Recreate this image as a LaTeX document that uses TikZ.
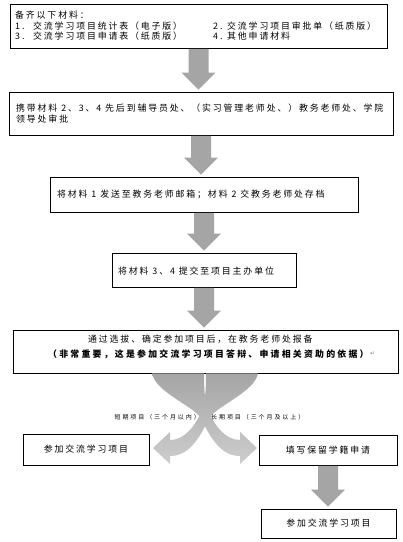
\documentclass[tikz,border=0pt]{standalone}
\usepackage{fontspec}
\setmainfont{Noto Sans CJK SC}[LetterSpace=21]
\newfontfamily\lblfont{Noto Sans CJK SC}[LetterSpace=32]
\newfontfamily\symfont{DejaVu Sans}
\usetikzlibrary{calc}
\definecolor{arrowgray}{RGB}{165,165,165}
\definecolor{lightarrow}{RGB}{205,205,205}
\tikzset{
 box/.style={draw=black, line width=0.8pt, inner sep=0pt},
 txt/.style={anchor=west, inner sep=0pt, font=\fontsize{8.9pt}{10.5pt}\selectfont},
 lbl/.style={inner sep=0pt, font=\lblfont\fontsize{6pt}{7pt}\selectfont},
 bandfill/.style={top color=arrowgray, bottom color=lightarrow, draw=none},
}
\newcommand\blockarr[2]{\fill[arrowgray] let \p1=(#1.south), \p2=(#2.north) in
 (\x1-10pt,\y1-0.4pt) -- (\x1+10pt,\y1-0.4pt) -- (\x1+10pt,\y2+19pt) -- (\x1+17pt,\y2+19pt) -- (\x1,\y2+2pt) -- (\x1-17pt,\y2+19pt) -- (\x1-10pt,\y2+19pt) -- cycle;}
\begin{document}
\begin{tikzpicture}[x=1pt,y=-1pt]
\fill[white] (0,0) rectangle (403,542);
\useasboundingbox (0,0) rectangle (403,542);

% boxes
\node[box, minimum width=377pt, minimum height=44pt] (b1) at (198.5,26) {};
\node[box, minimum width=384pt, minimum height=43pt] (b2) at (201,113.5) {};
\node[box, minimum width=308pt, minimum height=35pt] (b3) at (204,194.5) {};
\node[box, minimum width=184pt, minimum height=34pt] (b4) at (204,270) {};
\node[box, minimum width=385pt, minimum height=43pt] (b5) at (205.5,351.5) {};
\node[box, minimum width=126pt, minimum height=31pt, font=\fontsize{8.9pt}{10.5pt}\selectfont] (b6) at (86,449.5) {参加交流学习项目};
\node[box, minimum width=138pt, minimum height=30pt, font=\fontsize{8.9pt}{10.5pt}\selectfont] (b7) at (328,450) {填写保留学籍申请};
\node[box, minimum width=135pt, minimum height=29pt, font=\fontsize{8.9pt}{10.5pt}\selectfont] (b8) at (328.5,523.5) {参加交流学习项目};

% texts
\node[txt] (t1a) at (15,15) {备齐以下材料：};
\node[txt] (t1b) at (15,26) {\makebox[18pt][l]{1.}交流学习项目统计表（电子版）};
\node[txt] (t1c) at (213,26) {\makebox[14pt][l]{2.}交流学习项目审批单（纸质版）};
\node[txt] (t1d) at (15,36) {\makebox[18pt][l]{3.}交流学习项目申请表（纸质版）};
\node[txt] (t1e) at (213,36) {\makebox[14pt][l]{4.}其他申请材料};
\node[txt] (t2a) at (16,108) {携带材料 2、3、4 先后到辅导员处、（实习管理老师处、）教务老师处、学院};
\node[txt] (t2b) at (16,119) {领导处审批};
\node[txt] (t3) at (57,194) {将材料 1 发送至教务老师邮箱；材料 2 交教务老师处存档};
\node[txt] (t4) at (118,271) {将材料 3、4 提交至项目主办单位};
\node[txt] (t5a) at (88,339) {通过选拔、确定参加项目后，在教务老师处报备};
\node[txt, font=\fontsize{8.9pt}{10.5pt}\selectfont\bfseries\addfontfeatures{LetterSpace=25}] (t5b) at (48,354) {（非常重要，这是参加交流学习项目答辩、申请相关资助的依据）};
\node[txt, text=gray, font=\symfont\fontsize{6pt}{7pt}\selectfont] (t5c) at (t5b.east) {\,↵};

% straight block arrows
\blockarr{b1}{b2}
\blockarr{b2}{b3}
\blockarr{b3}{b4}
\blockarr{b4}{b5}
\blockarr{b7}{b8}

% curved crossing arrows
\shade[bandfill] (152,373.4) -- (204,373.4)
 .. controls (204,392) and (205,402) .. (208,410)
 .. controls (215,427) and (226,440) .. (240,440)
 -- (240,432) -- (257,448) -- (240,464) -- (240,456)
 .. controls (222,456) and (211,440) .. (201,418)
 .. controls (190,404) and (156,392) .. (152,373.4) -- cycle;
\shade[bandfill] (258,373.4) -- (206,373.4)
 .. controls (206,392) and (205,402) .. (202,410)
 .. controls (195,427) and (184,440) .. (170,440)
 -- (170,432) -- (153,448) -- (170,464) -- (170,456)
 .. controls (188,456) and (199,440) .. (209,418)
 .. controls (220,404) and (254,392) .. (258,373.4) -- cycle;

% labels
\node[lbl, anchor=east] (l1) at (200,417) {短期项目（三个月以内）};
\node[lbl, anchor=west] (l2) at (211,417) {长期项目（三个月及以上）};
\end{tikzpicture}
\end{document}
